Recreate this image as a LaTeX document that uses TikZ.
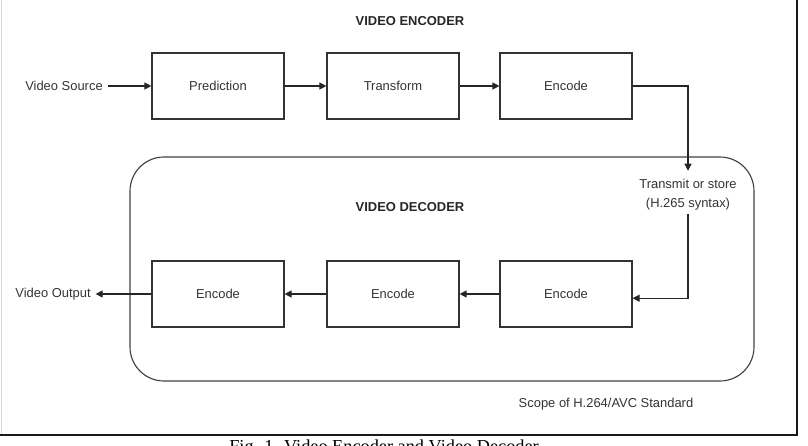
\documentclass[tikz,border=0pt]{standalone}
\usepackage{fontspec}
\setmainfont{Liberation Sans}
\newfontfamily\capfont{Liberation Serif}
\usetikzlibrary{arrows.meta}
\begin{document}
\begin{tikzpicture}[x=0.025cm,y=-0.025cm,
  txt/.style={font=\fontsize{9.2}{13.5}\selectfont,text=black!80},
  ttl/.style={font=\bfseries\fontsize{9.2}{11}\selectfont,text=black!85},
  blk/.style={draw=black!80,line width=0.8pt,minimum width=3.3cm,
    minimum height=1.65cm,inner sep=0pt,txt},
  arr/.style={draw=black!85,line width=0.8pt,
    -{Triangle[length=5pt,width=5pt]}}]
  \useasboundingbox (0,0) rectangle (808,446);
  % Page frame
  \draw[black!15,line width=0.8pt] (1.5,0) -- (1.5,435);
  \draw[black!90,line width=2pt] (0,435) -- (797,435) -- (797,0);
  % Decoder scope (background)
  \draw[black!75,line width=0.8pt,rounded corners=0.85cm]
    (130,157) rectangle (754,381);
  \node[ttl] (enctitle) at (410,21) {VIDEO ENCODER};
  \node[ttl] (dectitle) at (410,207) {VIDEO DECODER};
  \node[txt] (scope) at (606,404) {Scope of H.264/AVC Standard};
  % Encoder chain
  \node[txt] (src) at (64,86) {Video Source};
  \node[blk] (pred) at (218,86) {Prediction};
  \node[blk] (trans) at (393,86) {Transform};
  \node[blk] (enc) at (566,86) {Encode};
  \draw[arr] (src) -- (pred);
  \draw[arr] (pred) -- (trans);
  \draw[arr] (trans) -- (enc);
  % Channel
  \node[txt,align=center,inner ysep=2pt] (tx) at (688,195)
    {Transmit or store\\(H.265 syntax)};
  \draw[arr] (enc.east) -| ([yshift=4pt]tx.north);
  % Decoder chain
  \node[blk] (dec3) at (566,294) {Encode};
  \node[blk] (dec2) at (393,294) {Encode};
  \node[blk] (dec1) at (218,294) {Encode};
  \node[txt] (out) at (53,294) {Video Output};
  \draw[arr] (tx.south) |- ([yshift=-3pt]dec3.east);
  \draw[arr] (dec3) -- (dec2);
  \draw[arr] (dec2) -- (dec1);
  \draw[arr] (dec1) -- (out);
  % Caption (cut by the page edge)
  \node[font=\capfont\fontsize{13}{15}\selectfont,anchor=base]
    (cap) at (384,452) {Fig. 1. Video Encoder and Video Decoder};
\end{tikzpicture}
\end{document}
